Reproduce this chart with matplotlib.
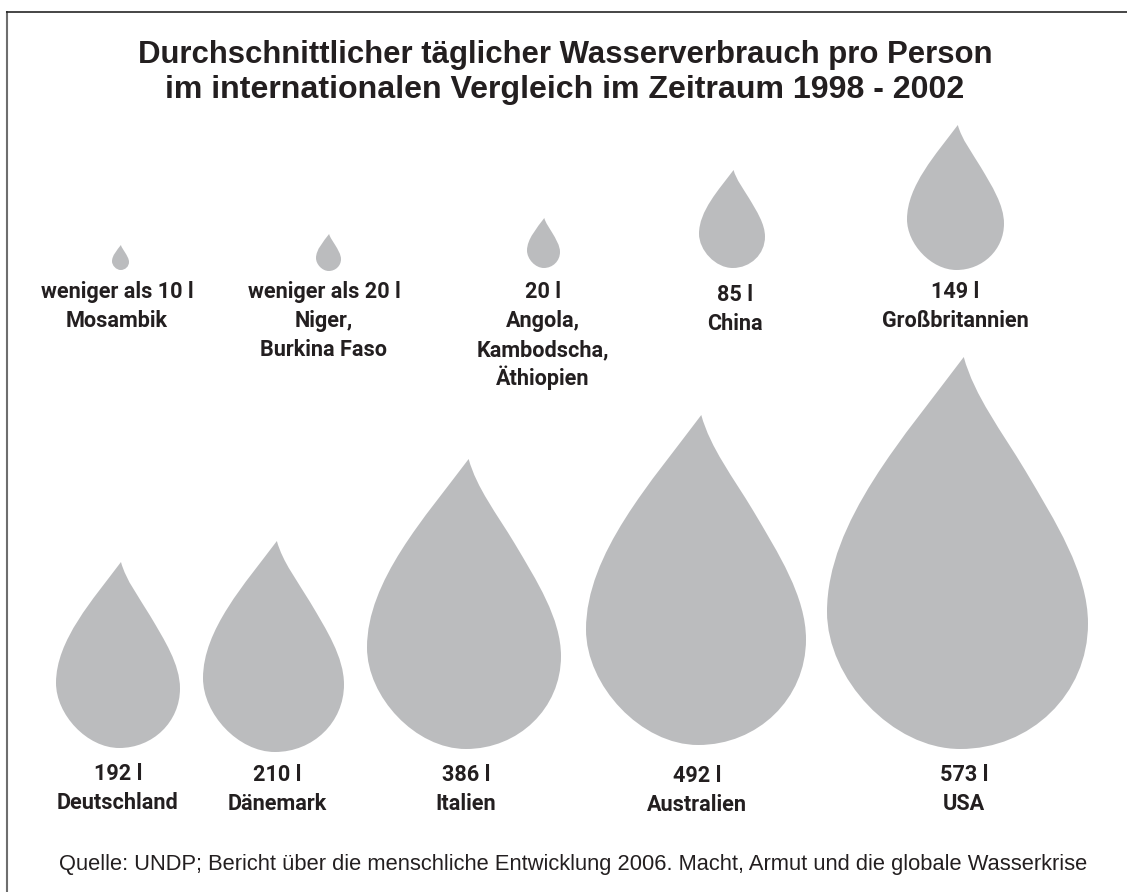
import matplotlib
matplotlib.use("Agg")
import matplotlib.pyplot as plt
from matplotlib.path import Path
from matplotlib.patches import PathPatch

W, H = 1127, 892

title_lines = ["Durchschnittlicher täglicher Wasserverbrauch pro Person",
               "im internationalen Vergleich im Zeitraum 1998 - 2002"]
source = "Quelle: UNDP; Bericht über die menschliche Entwicklung 2006. Macht, Armut und die globale Wasserkrise"

liters = [5, 15, 20, 85, 149, 192, 210, 386, 492, 573]
labels = [["weniger als 10 l", "Mosambik"],
          ["weniger als 20 l", "Niger,", "Burkina Faso"],
          ["20 l", "Angola,", "Kambodscha,", "Äthiopien"],
          ["85 l", "China"],
          ["149 l", "Großbritannien"],
          ["192 l", "Deutschland"],
          ["210 l", "Dänemark"],
          ["386 l", "Italien"],
          ["492 l", "Australien"],
          ["573 l", "USA"]]

# layout in pixels: drop left, right, top, bottom; label centre x, first baseline y
lefts   = [112, 316, 527, 699, 907, 56, 203, 367, 586, 827]
rights  = [129, 341, 560, 765, 1004, 180, 344, 561, 806, 1088]
tops    = [245, 234, 218, 170, 125, 562, 541, 459, 415, 357]
bottoms = [270, 271, 268, 268, 270, 748, 752, 749, 745, 749]
label_x = [117, 324, 543, 735, 955, 118, 277, 466, 697, 964]
label_y = [298, 298, 298, 301, 298, 780, 781, 781, 782, 781]

# unit drop shape: x in [0,1] (left to right), y in [0,1] (top to bottom)
verts = [(0.524, 0.0),
         (0.30, 0.20), (0.0, 0.42), (0.0, 0.65),
         (0.0, 0.82), (0.25, 1.0), (0.51, 1.0),
         (0.78, 1.0), (1.0, 0.86), (1.0, 0.68),
         (1.0, 0.55), (0.875, 0.42), (0.76, 0.29),
         (0.67, 0.19), (0.565, 0.10), (0.524, 0.0),
         (0.524, 0.0)]
codes = [Path.MOVETO] + [Path.CURVE4] * 15 + [Path.CLOSEPOLY]

fig = plt.figure(figsize=(W / 100, H / 100), dpi=100, facecolor="white")
ax = fig.add_axes([0, 0, 1, 1])
ax.set_xlim(0, W)
ax.set_ylim(H, 0)
ax.axis("off")

ax.plot([7, 7], [11, H], color="#6e6e6e", lw=1.5, solid_capstyle="butt")
ax.plot([6.3, W], [11.5, 11.5], color="#262626", lw=1.2, solid_capstyle="butt")

for l, r, t, b in zip(lefts, rights, tops, bottoms):
    pts = [(l + x * (r - l), t + y * (b - t)) for x, y in verts]
    ax.add_patch(PathPatch(Path(pts, codes), fc="#bbbcbe", ec="none"))

for x, y, lines in zip(label_x, label_y, labels):
    for i, s in enumerate(lines):
        ax.text(x, y + i * 29, s, ha="center", va="baseline", fontsize=15.6,
                fontweight="bold", family=["Roboto", "DejaVu Sans"], color="#231f20")

title_sizes = [22.4, 23.1]
for i, (line, size) in enumerate(zip(title_lines, title_sizes)):
    ax.text(565, 63 + i * 35, line, ha="center", va="baseline", fontsize=size,
            fontweight="bold", family=["Liberation Sans", "DejaVu Sans"], color="#231f20")

ax.text(573, 870, source, ha="center", va="baseline", fontsize=15.76,
        family=["Liberation Sans", "DejaVu Sans"], color="#231f20")

fig.savefig("out.png", dpi=100)
